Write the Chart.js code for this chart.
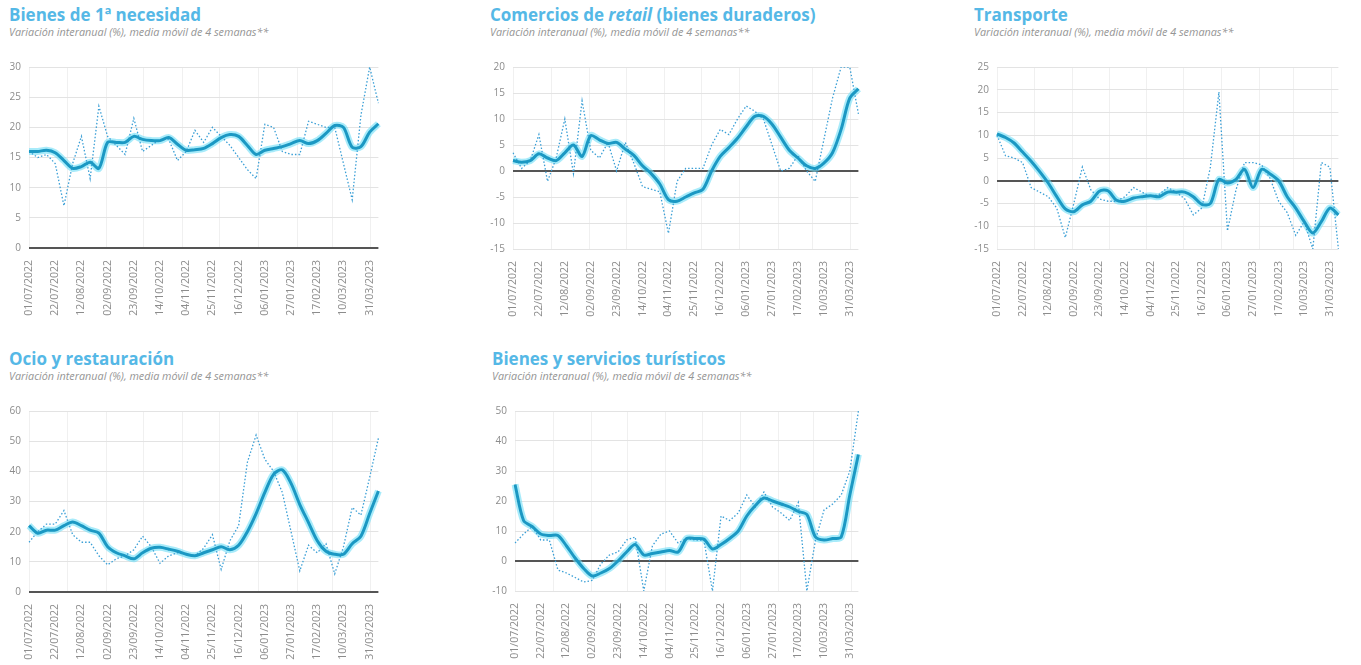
<!DOCTYPE html>
<html><head><meta charset="utf-8">
<script src="https://cdn.jsdelivr.net/npm/chart.js@4.4.0/dist/chart.umd.min.js"></script>
<style>
body{margin:0;background:#fff;width:1361px;height:665px;position:relative;overflow:hidden;font-family:"Open Sans",sans-serif}
.t{position:absolute;font-weight:700;font-size:17px;line-height:17px;color:#55b8e6;white-space:nowrap}
.s{position:absolute;font-style:italic;font-size:10.8px;line-height:11px;color:#959595;white-space:nowrap}
canvas{position:absolute}
</style></head><body>
<script>
const weeks = ['01/07/2022','08/07/2022','15/07/2022','22/07/2022','29/07/2022','05/08/2022','12/08/2022','19/08/2022','26/08/2022','02/09/2022','09/09/2022','16/09/2022','23/09/2022','30/09/2022','07/10/2022','14/10/2022','21/10/2022','28/10/2022','04/11/2022','11/11/2022','18/11/2022','25/11/2022','02/12/2022','09/12/2022','16/12/2022','23/12/2022','30/12/2022','06/01/2023','13/01/2023','20/01/2023','27/01/2023','03/02/2023','10/02/2023','17/02/2023','24/02/2023','03/03/2023','10/03/2023','17/03/2023','24/03/2023','31/03/2023','07/04/2023'];
const monthStarts = ['01/07/2022','01/08/2022','01/09/2022','01/10/2022','01/11/2022','01/12/2022','01/01/2023','01/02/2023','01/03/2023','01/04/2023'];
const labelEvery = 3;

const necesidadMedia   = [16,16,16.2,15.8,14.5,13.2,13.5,14.2,13.2,17.5, 17.5,17.5,18.5,18,17.8,17.8,18.3,17.2,16.2,16.3, 16.5,17.3,18.3,18.8,18.5,17,15.5,16.2,16.5,16.8, 17.3,17.8,17.3,17.8,19,20.3,20,16.7,16.8,19.2, 20.6];
const necesidadSemanal = [16,15,15.5,14,7,14,18.5,11.5,23.5,18.5, 17,15.5,21.5,16,17,18,18,14.5,16,19.5, 17.5,20,18.5,17,15,13,11.5,20.5,20,16, 15.5,15.5,21,20.5,20,20,14,8,22,30, 24];
const retailMedia      = [2,1.7,2,3.3,2.5,2,3.5,5,2.8,6.8, 6,5.3,5.5,4.2,3,1,-0.5,-2.5,-5.5,-5.8, -5,-4.2,-3.5,0,2.8,4.5,6.3,8.5,10.5,10.5, 9,6.5,4,2.5,1,0.5,1.5,3.5,8,14, 15.8];
const retailSemanal    = [3.5,0.5,2,7,-2,2.5,10,-0.5,13.5,4, 2.5,5.5,0,5.5,1.5,-3,-3.5,-4,-12,-2, 0.5,0.5,0.5,5,8,7,10,12.5,11.5,10, 5,0,0.5,3,0,-2,6,14,20,20, 11];
const transporteMedia  = [10.3,9.5,8.3,6.3,4.3,2,-0.5,-3.5,-6.2,-6.8, -5.3,-4.5,-2.3,-2.2,-4.3,-4.5,-3.8,-3.5,-3.3,-3.5, -2.5,-2.5,-2.5,-3.5,-5.2,-5,0.3,-0.5,0.3,2.5, -1.5,2.5,1.5,0,-3.5,-6,-9,-11.5,-9,-6, -7.5];
const transporteSemanal= [10,5.5,5,4,-1.5,-2.5,-3.5,-6,-12.5,-5, 3,-2,-4,-4.5,-4.5,-3.5,-1.5,-2.5,-3.5,-3, -1.5,-2.5,-4,-7.5,-6,3,19.5,-11,-2,4, 4,3.5,0.5,-4.5,-7,-12,-9,-15,4,3, -15];
const ocioMedia        = [22,19.5,20.5,20.5,22,23.2,22,20.5,19.5,15, 13,12,11,13,14.5,14.8,14.2,13.5,12.5,12, 13,14,15,14,15.5,20,26,33,39,40.5, 36,29,23,17,13.5,12.5,12.5,16,18.5,26, 33.5];
const ocioSemanal      = [16.5,20,22.5,22.5,27,19,16.5,16.5,12,9, 11,12,14,18.5,15,9.5,12,13,12.5,12, 14.5,19,7.5,17,22,43,52,44,40,33, 20,7,15.5,13,16,6,15,28,25.5,38, 51];
const turismoMedia     = [25.5,13.5,11.5,9,8.5,8.5,5,1,-2.5,-5, -4,-2.5,0,3,5.5,2,2.5,3,3.5,3, 7.5,7.5,7.3,4,5.5,7.5,10,15,18.5,21, 20,19,18,16.5,15.5,8,7,7.5,8,22, 35.5];
const turismoSemanal   = [6,9,11.5,7,7,-3,-4,-5.5,-7,-6.5, -1,2,3,7,8,-10,5,9,10,6, 7.5,7,7,-10,15,13.5,16,22,18,23, 18,16,13.5,19.5,-10,7,17,19,22,30, 50];

const titles = ['Bienes de 1ª necesidad','Comercios de <i>retail</i> (bienes duraderos)','Transporte','Ocio y restauración','Bienes y servicios turísticos'];
const subtitle = 'Variación interanual (%), media móvil de 4 semanas**';
const yRanges = [[0,30,5],[-15,20,5],[-15,25,5],[0,60,10],[-10,50,10]];
const seriesMedia = [necesidadMedia, retailMedia, transporteMedia, ocioMedia, turismoMedia];
const seriesSemanal = [necesidadSemanal, retailSemanal, transporteSemanal, ocioSemanal, turismoSemanal];

// layout (pixels)
const panels = [
  {tx:9,  ty:0,   area:[29,63,358,185]},
  {tx:490,ty:0,   area:[513,63,354,186]},
  {tx:974,ty:0,   area:[997,63,350,186]},
  {tx:9,  ty:344, area:[29,407,358,185]},
  {tx:492,ty:344, area:[515,407,352,184]}
];

function parseD(s){const [d,m,y]=s.split('/').map(Number);return Date.UTC(y,m-1,d);}
const t0 = parseD(weeks[0]);
const monthPos = monthStarts.map(s => (parseD(s)-t0)/(7*864e5));

const tickFont = {family:'Open Sans', size:10};
const tickColor = '#8c8c8c';

panels.forEach((p,k) => {
  const t = document.createElement('div'); t.className='t'; t.style.left=p.tx+'px'; t.style.top=(p.ty+6)+'px'; t.innerHTML=titles[k]; document.body.appendChild(t);
  const s = document.createElement('div'); s.className='s'; s.style.left=(p.tx)+'px'; s.style.top=(p.ty+26)+'px'; s.textContent=subtitle; document.body.appendChild(s);
  const [al,at,aw,ah] = p.area;
  const yw = 29, padT = 10, padR = 8, xh = 75;
  const cv = document.createElement('canvas');
  cv.width = aw + yw + padR; cv.height = ah + padT + xh;
  cv.style.left = (al - yw)+'px'; cv.style.top = (at - padT)+'px';
  document.body.appendChild(cv);
  const [ymin,ymax,step] = yRanges[k];
  new Chart(cv.getContext('2d'), {
    type:'line',
    data:{labels:weeks, datasets:[
      {data:seriesMedia[k], borderColor:'#1b98c3', borderWidth:3, pointRadius:0, tension:0.3, xAxisID:'x', yAxisID:'y'},
      {data:seriesSemanal[k], borderColor:'#3a9fd6', borderWidth:1.3, borderDash:[1.5,2], pointRadius:0, tension:0, xAxisID:'x', yAxisID:'y'},
      {data:seriesMedia[k], borderColor:'rgba(110,222,246,0.6)', borderWidth:7, pointRadius:0, tension:0.3, xAxisID:'x', yAxisID:'y'}
    ]},
    options:{
      responsive:false, animation:false, devicePixelRatio:1,
      layout:{padding:{top:padT,right:padR,left:0,bottom:0}},
      plugins:{legend:{display:false}, tooltip:{enabled:false}},
      scales:{
        x:{type:'category', position:'bottom', grid:{display:false}, border:{display:false},
           ticks:{autoSkip:false, maxRotation:90, minRotation:90, padding:4, color:tickColor, font:{family:'Open Sans', size:10.5},
             callback:(v,i)=> i%labelEvery===0 ? weeks[i] : ''},
           afterFit:s=>{s.height=xh;}},
        g:{type:'linear', position:'bottom', min:0, max:weeks.length-1,
           ticks:{display:false}, grid:{color:'#f0f0f0', drawTicks:false}, border:{display:false},
           afterBuildTicks:s=>{s.ticks=monthPos.map(v=>({value:v}));}, afterFit:s=>{s.height=0;}},
        y:{min:ymin, max:ymax, border:{display:false},
           ticks:{stepSize:step, padding:8, color:tickColor, font:tickFont},
           grid:{drawTicks:false, color:c=>c.tick && c.tick.value===0 ? '#555555' : '#e3e3e3', lineWidth:c=>c.tick && c.tick.value===0 ? 2 : 1},
           afterFit:s=>{s.width=yw;}}
      }
    }
  });
});
</script>
</body></html>
